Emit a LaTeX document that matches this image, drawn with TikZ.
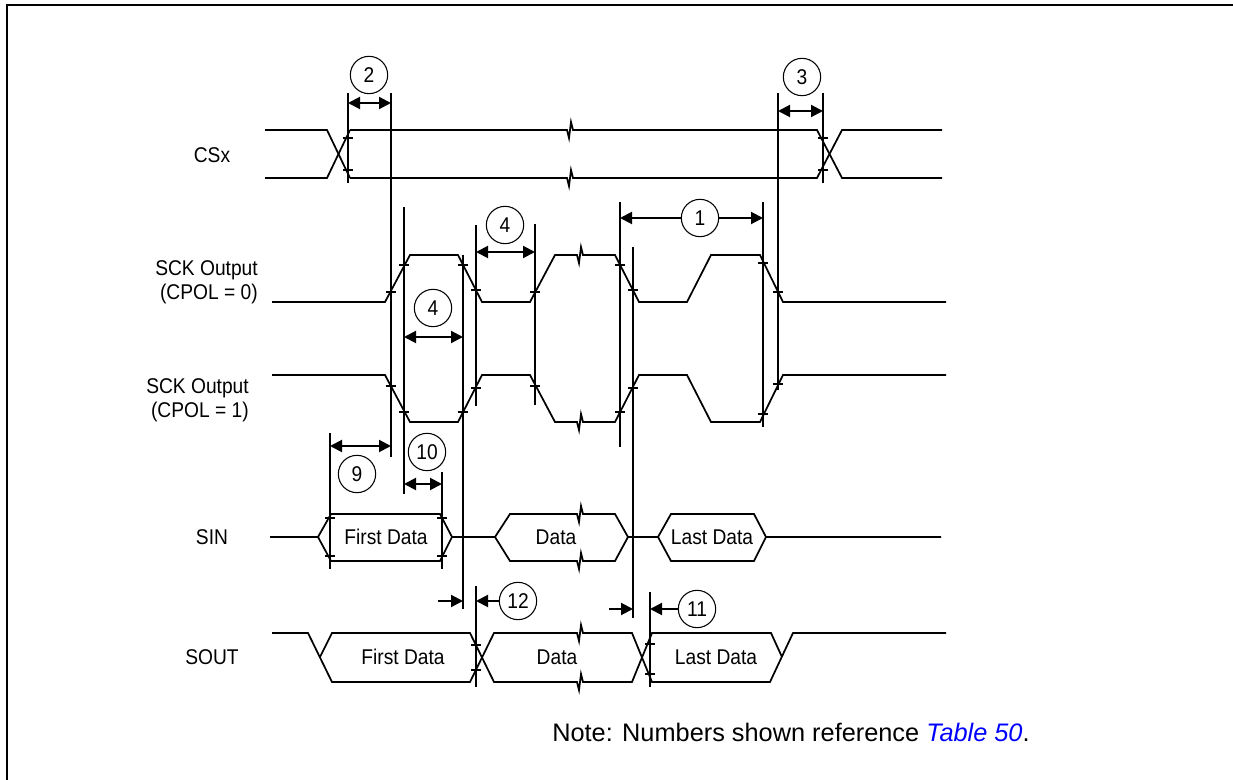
\documentclass[tikz,border=0pt]{standalone}
\usepackage{fontspec}
\setmainfont{Liberation Sans}
\newfontfamily\condfont[FakeStretch=0.9]{Liberation Sans}
\newcommand{\sigtxt}{\condfont\fontsize{16}{18}\selectfont}
\usetikzlibrary{arrows.meta}
\definecolor{tabblue}{RGB}{0,0,255}

\begin{document}
\begin{tikzpicture}[x=0.75pt,y=-0.75pt,
  wave/.style={line width=1.3pt},
  guide/.style={line width=1.4pt},
  tk/.style={line width=0.9pt},
  dim/.style={line width=1.5pt,{Triangle[length=9pt,width=9pt]}-{Triangle[length=9pt,width=9pt]}},
  dimr/.style={line width=1.5pt,-{Triangle[length=9pt,width=9pt]}},
  num/.style={draw,circle,line width=0.8pt,minimum size=28pt,inner sep=0pt,font=\sigtxt},
  lbl/.style={font=\sigtxt,align=right,inner sep=0pt},
  brk/.style={insert path={-- ++(2,8) -- ++(2,-16) -- ++(2,8)}}]
\useasboundingbox (0,0) rectangle (1233,780);
\draw[line width=2.2pt] (7,780) -- (7,5) -- (1233,5);

% signal names
\node[lbl] (lcs) at (212,155) {CSx};
\node[lbl,anchor=east] (lsck0) at (258,282) {SCK Output\\(CPOL = 0)};
\node[lbl,anchor=east] (lsck1) at (249,400) {SCK Output\\(CPOL = 1)};
\node[lbl] (lsin) at (212,537) {SIN};
\node[lbl] (lsout) at (212,657) {SOUT};

% CSx
\draw[wave] (265,130) -- (327,130) -- (350,178);
\draw[wave] (265,178) -- (327,178) -- (350,130);
\draw[wave] (350,130) -- (567,130) [brk] -- (817,130) -- (842,178) -- (942,178);
\draw[wave] (350,178) -- (567,178) [brk] -- (817,178) -- (842,130) -- (942,130);

% SCK, both polarities
\draw[wave] (272,302) -- (385,302) -- (410,255) -- (458,255) -- (482,302) -- (530,302) -- (555,255) -- (577,255) [brk]
  -- (615,255) -- (639,302) -- (687,302) -- (711,255) -- (760,255) -- (783,302) -- (946,302);
\draw[wave] (272,375) -- (385,375) -- (410,422) -- (458,422) -- (482,375) -- (530,375) -- (555,422) -- (577,422) [brk]
  -- (615,422) -- (639,375) -- (687,375) -- (711,422) -- (760,422) -- (783,375) -- (946,375);

% SIN
\draw[wave] (270,537) -- (318,537) -- (331,514) -- (440,514) -- (452,537) -- (495,537) -- (510,514) -- (577,514) [brk]
  -- (615,514) -- (628,537) -- (658,537) -- (671,514) -- (754,514) -- (766,537) -- (941,537);
\draw[wave] (318,537) -- (331,561) -- (440,561) -- (452,537);
\draw[wave] (495,537) -- (510,561) -- (577,561) [brk] -- (615,561) -- (628,537);
\draw[wave] (658,537) -- (671,561) -- (754,561) -- (766,537);
\node[font=\sigtxt] (sin1) at (386,537) {First Data};
\node[font=\sigtxt] (sin2) at (556,537) {Data};
\node[font=\sigtxt] (sin3) at (712,537) {Last Data};

% SOUT
\draw[wave] (272,633) -- (308,633) -- (332,682) -- (470,682) -- (494,633) -- (577,633) [brk]
  -- (632,633) -- (652,682) -- (770,682) -- (793,633) -- (946,633);
\draw[wave] (320,657) -- (332,633) -- (470,633) -- (494,682) -- (577,682) [brk]
  -- (632,682) -- (652,633) -- (771,633) -- (782,657);
\node[font=\sigtxt] (sout1) at (403,657) {First Data};
\node[font=\sigtxt] (sout2) at (557,657) {Data};
\node[font=\sigtxt] (sout3) at (716,657) {Last Data};

% timing references
\foreach \x/\ya/\yb in {348/93/183, 391/93/457, 823/93/183, 778/93/390, 404/207/494, 463/255/609,
  476/225/406, 535/224/405, 620/202/447, 633/247/618, 763/202/427, 330/433/569, 442/472/569,
  476/586/687, 650/592/687}
  \draw[guide] (\x,\ya) -- (\x,\yb);
\foreach \x/\y in {348/138, 348/170, 823/138, 823/170,
  391/292, 404/265, 463/265, 476/290, 535/292, 620/265, 633/290, 763/263, 778/292,
  391/386, 404/412, 463/412, 476/388, 535/386, 620/412, 633/388, 763/414, 778/384,
  330/518, 330/556, 442/518, 442/556, 476/645, 476/670, 650/644, 650/674}
  \draw[tk] (\x-5,\y) -- (\x+5,\y);

% dimensions
\node[num] (n2) at (369,75) {2};
\node[num] (n3) at (802,77) {3};
\node[num] (n1) at (700,218) {1};
\node[num] (n4a) at (505,225) {4};
\node[num] (n4b) at (433,308) {4};
\node[num] (n9) at (357,474) {9};
\node[num] (n10) at (427,452) {10};
\node[num] (n12) at (518,601) {12};
\node[num] (n11) at (697,609) {11};

\coordinate (d2a) at (348,103); \coordinate (d2b) at (391,103);
\coordinate (d3a) at (778,111); \coordinate (d3b) at (823,111);
\coordinate (d1a) at (620,218); \coordinate (d1b) at (763,218);
\coordinate (d4a) at (476,252); \coordinate (d4b) at (535,252);
\coordinate (d4c) at (404,337); \coordinate (d4d) at (463,337);
\coordinate (d9a) at (330,446); \coordinate (d9b) at (391,446);
\coordinate (d10a) at (404,484); \coordinate (d10b) at (442,484);
\coordinate (d12a) at (438,601); \coordinate (d12b) at (463,601); \coordinate (d12c) at (476,601);
\coordinate (d11a) at (609,609); \coordinate (d11b) at (633,609); \coordinate (d11c) at (650,609);

\draw[dim] (d2a) -- (d2b);
\draw[dim] (d3a) -- (d3b);
\draw[dimr] (n1) -- (d1a);
\draw[dimr] (n1) -- (d1b);
\draw[dim] (d4a) -- (d4b);
\draw[dim] (d4c) -- (d4d);
\draw[dim] (d9a) -- (d9b);
\draw[dim] (d10a) -- (d10b);
\draw[dimr] (d12a) -- (d12b);
\draw[dimr] (n12) -- (d12c);
\draw[dimr] (d11a) -- (d11b);
\draw[dimr] (n11) -- (d11c);

% note
\node[anchor=base west,inner sep=0pt,font=\fontsize{19}{22}\selectfont] (note) at (552,741)
  {Note: Numbers shown reference \textcolor{tabblue}{\textit{Table 50}}.};
\end{tikzpicture}
\end{document}
